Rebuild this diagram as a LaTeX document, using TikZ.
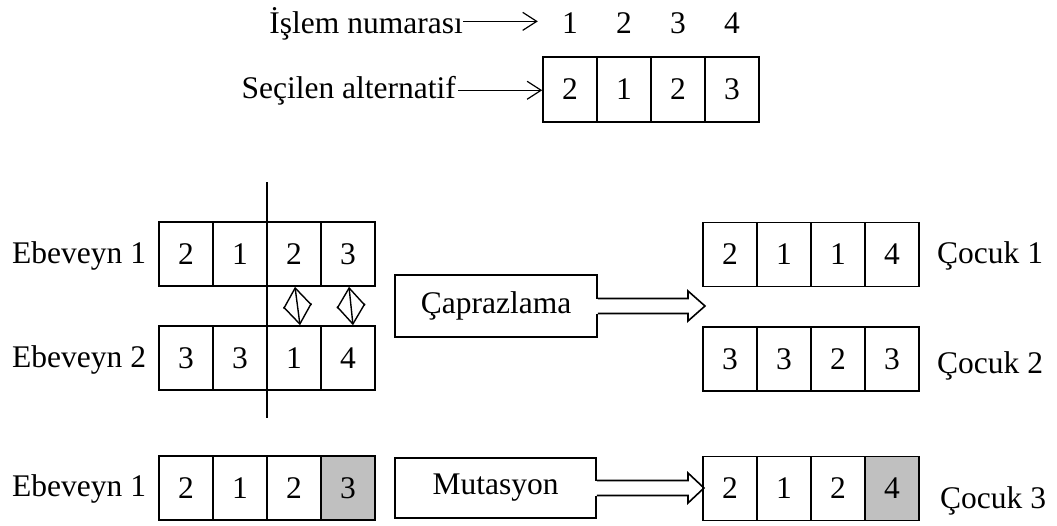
\documentclass[tikz,border=0pt]{standalone}
\usepackage{fontspec}
\setmainfont{Liberation Serif}
\usetikzlibrary{arrows.meta,calc}
\definecolor{mutgray}{RGB}{192,192,192}
\begin{document}
\begin{tikzpicture}[x=1pt,y=-1pt,
  font=\fontsize{31.5}{36}\selectfont,
  cell/.style={draw, line width=1.6pt, minimum width=54pt, minimum height=64pt, inner sep=0pt},
  num/.style={inner sep=0pt, minimum width=54pt},
  lbl/.style={inner sep=0pt},
  thinarr/.style={line width=1.2pt, -{Straight Barb[length=14pt,width=18pt]}},
  swaparr/.style={line width=1.4pt, {Straight Barb[length=19pt,width=28pt]}-{Straight Barb[length=19pt,width=28pt]}},
  opbox/.style={draw, line width=1.6pt, inner sep=0pt},
  blk/.style={draw, line width=1.6pt, line join=miter},
  cutline/.style={line width=1.2pt},
  mut/.style={fill=mutgray}]
\useasboundingbox (0,0) rectangle (1057,525);

% top part
\node[lbl, anchor=base east] (islem) at (463,33) {İşlem numarası};
\node[lbl, anchor=base east] (sec) at (456,98) {Seçilen alternatif};
\foreach \i in {1,2,3,4} \node[num, anchor=base] (n\i) at ({516+54*\i},33) {\i};
\foreach \v [count=\i] in {2,1,2,3} \node[cell, minimum height=65pt] (s\i) at ({516+54*\i},89.5) {\v};
\draw[thinarr, shorten >=5pt] ([yshift=2pt]islem.east) -- ([yshift=2pt]islem.east -| n1.west);
\draw[thinarr] ([xshift=2pt]sec.east) -- (sec.east -| s1.west);

% parents
\foreach \v [count=\i] in {2,1,2,3} \node[cell] (pa\i) at ({132+54*\i},254) {\v};
\foreach \v [count=\i] in {3,3,1,4} \node[cell] (pb\i) at ({132+54*\i},358) {\v};
\foreach \v [count=\i] in {2,1,2} \node[cell] (pm\i) at ({132+54*\i},488) {\v};
\node[cell, mut] (pm4) at ({132+54*4},488) {3};

% children
\foreach \v [count=\i] in {2,1,1,4} \node[cell] (ca\i) at ({676+54*\i},254.5) {\v};
\foreach \v [count=\i] in {3,3,2,3} \node[cell] (cb\i) at ({676+54*\i},359) {\v};
\foreach \v [count=\i] in {2,1,2} \node[cell] (cm\i) at ({676+54*\i},488.5) {\v};
\node[cell, mut] (cm4) at ({676+54*4},488.5) {4};

% labels
\node[lbl, anchor=base west] (e1) at (12,263) {Ebeveyn 1};
\node[lbl, anchor=base west] (e2) at (12,367) {Ebeveyn 2};
\node[lbl, anchor=base west] (e3) at (12,496) {Ebeveyn 1};
\node[lbl, anchor=base west] (k1) at (937,263) {Çocuk 1};
\node[lbl, anchor=base west] (k2) at (937,373) {Çocuk 2};
\node[lbl, anchor=base west] (k3) at (940,508) {Çocuk 3};

% cut line
\coordinate (cuttop) at (267,182);
\coordinate (cutbot) at (267,418);
\draw[cutline] (cuttop) -- (cutbot);

% swap arrows
\draw[swaparr] ([xshift=1pt]pa3.south) -- ([xshift=6pt]pb3.north);
\draw[swaparr] ([xshift=1pt]pa4.south) -- ([xshift=5pt]pb4.north);

% operation boxes
\node[opbox, minimum width=202pt, minimum height=62pt] (cap) at (496,306) {Çaprazlama};
\node[opbox, minimum width=201pt, minimum height=60pt] (mutb) at (495.5,488) {Mutasyon};

\coordinate (xtip) at (705,306);
\fill[white] ($(cap.east)+(-1.5,-7.5)$) rectangle ($(cap.east)+(1.5,7.5)$);
\draw[blk] ($(cap.east)+(0,-7.5)$) -- ($(xtip)+(-17,-7.5)$) -- ($(xtip)+(-17,-15)$) -- (xtip)
  -- ($(xtip)+(-17,15)$) -- ($(xtip)+(-17,7.5)$) -- ($(cap.east)+(0,7.5)$);

\coordinate (mtip) at (704,488);
\fill[white] ($(mutb.east)+(-1.5,-7.5)$) rectangle ($(mutb.east)+(1.5,7.5)$);
\draw[blk] ($(mutb.east)+(0,-7.5)$) -- ($(mtip)+(-16,-7.5)$) -- ($(mtip)+(-16,-15)$) -- (mtip)
  -- ($(mtip)+(-16,15)$) -- ($(mtip)+(-16,7.5)$) -- ($(mutb.east)+(0,7.5)$);
\end{tikzpicture}
\end{document}
